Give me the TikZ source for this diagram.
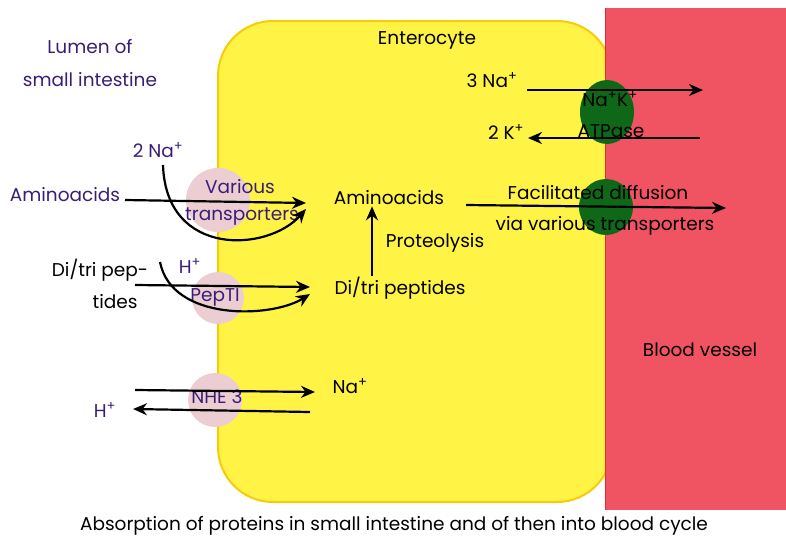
\documentclass[tikz,border=0pt]{standalone}
\usepackage{fontspec}
\setmainfont{Poppins}
\usepackage{xcolor}
\usetikzlibrary{positioning, arrows.meta, shapes.geometric, backgrounds}

\definecolor{cellyellow}{RGB}{255,243,70}
\definecolor{celledge}{RGB}{246,204,10}
\definecolor{bloodred}{RGB}{240,84,98}
\definecolor{bloodedge}{RGB}{235,40,50}
\definecolor{pumpgreen}{RGB}{14,104,24}
\definecolor{carrierpink}{RGB}{236,206,210}
\definecolor{inkpurple}{RGB}{58,30,118}

\newcommand{\ionp}{\textsuperscript{+}}

\begin{document}
\begin{tikzpicture}[x=1pt, y=-1pt,
  lbl/.style={font=\fontsize{18.5}{22}\selectfont, inner sep=1pt},
  ink/.style={lbl, text=inkpurple},
  arr/.style={-{Stealth[length=14pt, width=12pt]}, line width=2.2pt},
  carrier/.style={circle, fill=carrierpink, inner sep=0pt, minimum size=#1},
  pump/.style={ellipse, fill=pumpgreen, inner sep=0pt,
               minimum width=54pt, minimum height=#1}
]
\useasboundingbox (0,0) rectangle (786,544);

% cell and blood vessel
\fill[cellyellow, draw=celledge, line width=2pt, rounded corners=55pt]
  (218,21) rectangle (612,502);
\fill[bloodred] (605,8) rectangle (786,510);
\draw[bloodedge, line width=1pt] (605,8) -- (605,510);

% carriers
\node[carrier=64pt] (vt) at (218,200) {};
\node[carrier=52pt] (pt) at (218,298) {};
\node[carrier=54pt] (nhe) at (215,400) {};
\node[pump=64pt] (atp) at (607,112) {};
\node[pump=56pt] (fd) at (606,207) {};

% labels
\node[ink] (lumen) at (90,47) {Lumen of};
\node[ink] (smint) at (90,80) {small intestine};
\node[lbl] (entero) at (427,40) {Enterocyte};
\node[lbl] (na3) at (492,80) {3 Na\ionp};
\node[lbl] (k2) at (506,132) {2 K\ionp};
\node[lbl] at (610,99) {Na\ionp K\ionp};
\node[lbl] at (611,131) {ATPase};
\node[ink] (na2) at (158,150) {2 Na\ionp};
\node[ink] (aa) at (65,195) {Aminoacids};
\node[ink] at (240,187) {Various};
\node[ink] at (242,217) {transporters};
\node[lbl] (aain) at (389,198) {Aminoacids};
\node[lbl] (dtp) at (100,270) {Di/tri pep-};
\node[lbl] at (115,302) {tides};
\node[ink] (hp) at (190,266) {H\ionp};
\node[ink] at (215,297) {PepTI};
\node[lbl] (dtpin) at (400,288) {Di/tri peptides};
\node[lbl] at (435,243) {Proteolysis};
\node[lbl] at (598,193) {Facilitated diffusion};
\node[lbl] at (605,226) {via various transporters};
\node[lbl] at (700,350) {Blood vessel};
\node[ink] at (217,397) {NHE 3};
\node[lbl] (nain) at (350,386) {Na\ionp};
\node[ink] (hout) at (105,410) {H\ionp};
\node[lbl] (cap) at (394,526) {Absorption of proteins in small intestine and of then into blood cycle};

% arrow ends
\coordinate (naA) at (527,90);  \coordinate (naB) at (703,90);
\coordinate (kA) at (700,138);  \coordinate (kB) at (528,138);
\coordinate (aaA) at (125,200); \coordinate (aaB) at (306,203);
\coordinate (cvA) at (163,165); \coordinate (cvB) at (306,209);
\coordinate (ptA) at (135,285); \coordinate (ptB) at (310,287);
\coordinate (hcA) at (160,262); \coordinate (hcB) at (310,294);
\coordinate (fdA) at (466,205); \coordinate (fdB) at (726,208);
\coordinate (nhA) at (135,390); \coordinate (nhB) at (315,392);
\coordinate (hhA) at (310,412); \coordinate (hhB) at (133,409);

\draw[arr] (naA) -- (naB);
\draw[arr] (kA) -- (kB);
\draw[arr] (aaA) -- (aaB);
\draw[arr] (cvA) .. controls (166,258) and (268,252) .. (cvB);
\draw[arr] (ptA) -- (ptB);
\draw[arr] (hcA) .. controls (172,322) and (272,318) .. (hcB);
\draw[arr] (dtpin.north -| 372,0) -- (aain.south -| 372,0);
\draw[arr] (fdA) -- (fdB);
\draw[arr] (nhA) -- (nhB);
\draw[arr] (hhA) -- (hhB);
\end{tikzpicture}
\end{document}
